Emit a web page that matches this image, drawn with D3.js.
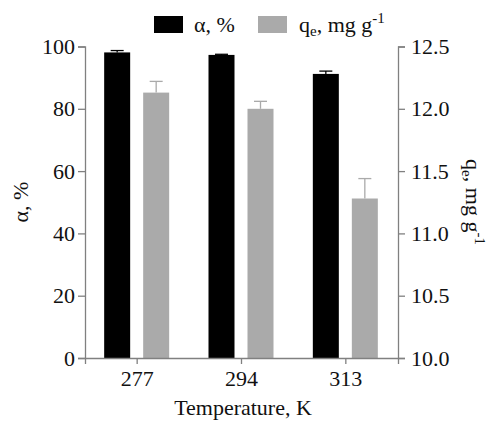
<!DOCTYPE html>
<html>
<head>
<meta charset="utf-8">
<script src="https://cdn.jsdelivr.net/npm/d3@7"></script>
<style>
  body { margin: 0; background: #fff; }
</style>
</head>
<body>
<svg width="491" height="422"></svg>
<script>
const temps = ['277', '294', '313']
const alpha = [98.1, 97.3, 91.2]
const alphaErr = [0.6, 0.2, 0.9]
const qe = [12.13, 12.0, 11.28]
const qeErr = [0.09, 0.06, 0.16]
const leftTicks = [0, 20, 40, 60, 80, 100]
const rightTicks = [10.0, 10.5, 11.0, 11.5, 12.0, 12.5]

const svg = d3.select('svg')
const margin = {left: 85, right: 93, top: 46.5, bottom: 64}
const width = 491 - margin.left - margin.right
const height = 422 - margin.top - margin.bottom
const axisColor = '#808080'
const FONT = 'Liberation Serif'
const FS = '22px'
const SUB = '15px'
const g = svg.append('g').attr('transform', `translate(${margin.left},${margin.top})`)

let x = d3.scaleBand().domain(temps).range([0, width])
let yL = d3.scaleLinear().domain([0, 100]).range([height, 0])
let yR = d3.scaleLinear().domain([10, 12.5]).range([height, 0])
const barW = 26

// bars
g.selectAll('.bar-a').data(alpha).enter().append('rect')
  .attr('class', 'bar-a')
  .attr('x', (d, i) => x(temps[i]) + x.bandwidth() / 2 - 7 - barW)
  .attr('y', d => yL(d))
  .attr('width', barW)
  .attr('height', d => height - yL(d))
  .attr('fill', '#000')
g.selectAll('.bar-q').data(qe).enter().append('rect')
  .attr('class', 'bar-q')
  .attr('x', (d, i) => x(temps[i]) + x.bandwidth() / 2 + 6)
  .attr('y', d => yR(d))
  .attr('width', barW)
  .attr('height', d => height - yR(d))
  .attr('fill', '#aaaaaa')

// error bars (upper only)
function errBars(cls, vals, errs, scale, dx, color) {
  const cx = (i) => x(temps[i]) + x.bandwidth() / 2 + dx
  g.selectAll('.' + cls + '-v').data(vals).enter().append('line')
    .attr('x1', (d, i) => cx(i)).attr('x2', (d, i) => cx(i))
    .attr('y1', d => scale(d)).attr('y2', (d, i) => scale(d + errs[i]))
    .attr('stroke', color).attr('stroke-width', 1.3)
  g.selectAll('.' + cls + '-h').data(vals).enter().append('line')
    .attr('x1', (d, i) => cx(i) - 6.5).attr('x2', (d, i) => cx(i) + 6.5)
    .attr('y1', (d, i) => scale(d + errs[i])).attr('y2', (d, i) => scale(d + errs[i]))
    .attr('stroke', color).attr('stroke-width', 1.3)
}
errBars('ea', alpha, alphaErr, yL, -7 - barW / 2, '#000')
errBars('eq', qe, qeErr, yR, 6 + barW / 2, '#aaaaaa')

// axes
function styleAxis(sel) {
  sel.attr('font-family', FONT).attr('font-size', FS)
  sel.selectAll('path, line').attr('stroke', axisColor).attr('stroke-width', 1.3)
  sel.selectAll('text').attr('fill', '#111')
}
g.append('g').call(d3.axisLeft(yL).tickValues(leftTicks).tickSizeOuter(0).tickSize(7).tickPadding(3))
  .call(styleAxis)
g.append('g').attr('transform', `translate(${width},0)`)
  .call(d3.axisRight(yR).tickValues(rightTicks).tickFormat(d3.format('.1f')).tickSizeOuter(0).tickSize(7).tickPadding(6))
  .call(styleAxis)
g.append('g').attr('transform', `translate(0,${height})`)
  .call(d3.axisBottom(x).tickSizeOuter(0).tickSize(6).tickPadding(6))
  .call(styleAxis)

function label(sel) {
  return sel.attr('font-family', FONT).attr('font-size', FS).attr('fill', '#111')
}
function qeLabel(t) {
  t.append('tspan').text('q')
  t.append('tspan').attr('dy', 4).attr('font-size', SUB).text('e')
  t.append('tspan').attr('dy', -4).text(', mg g')
  t.append('tspan').attr('dy', -9).attr('font-size', SUB).text('-1')
}

// axis titles
svg.append('text').attr('x', 243).attr('y', 415).attr('text-anchor', 'middle')
  .call(label).text('Temperature, K')
svg.append('text').attr('transform', 'translate(28,202) rotate(-90)').attr('text-anchor', 'middle')
  .call(label).text('α, %')
svg.append('text').attr('transform', 'translate(466,202) rotate(90)').attr('text-anchor', 'middle')
  .call(label).call(qeLabel)

// legend
svg.append('rect').attr('x', 154).attr('y', 16).attr('width', 29).attr('height', 17).attr('fill', '#000')
svg.append('text').attr('x', 194).attr('y', 32).call(label).text('α, %')
svg.append('rect').attr('x', 258).attr('y', 16).attr('width', 29).attr('height', 17).attr('fill', '#aaaaaa')
svg.append('text').attr('x', 299).attr('y', 32).call(label).call(qeLabel)
</script>
</body>
</html>
